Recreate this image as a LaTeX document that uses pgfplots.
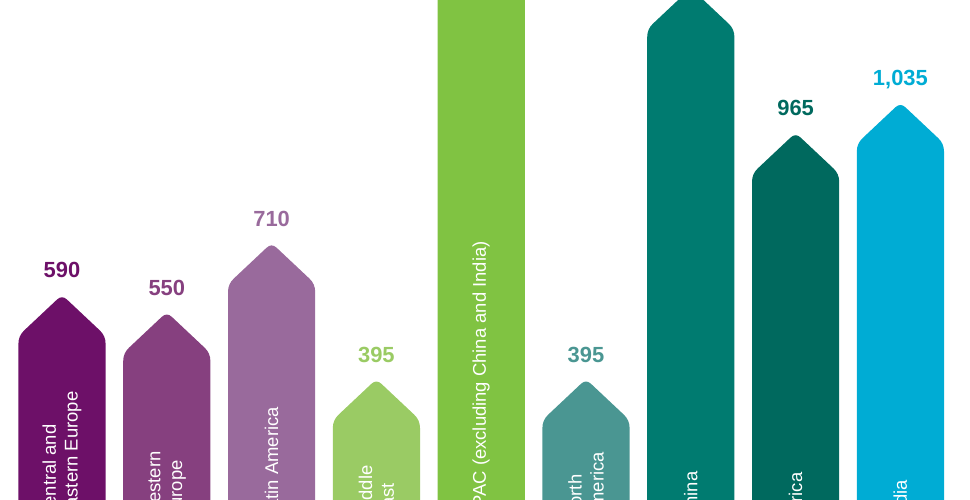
\documentclass[border=0pt]{standalone}
\usepackage{pgfplots}
\pgfplotsset{compat=1.18}
\usepackage{fontspec}
\setmainfont{Liberation Sans}

\definecolor{cee}{HTML}{6D1068}
\definecolor{we}{HTML}{86407F}
\definecolor{la}{HTML}{996A9C}
\definecolor{me}{HTML}{9ACB64}
\definecolor{apac}{HTML}{80C342}
\definecolor{na}{HTML}{4A9692}
\definecolor{cn}{HTML}{007B70}
\definecolor{af}{HTML}{00695E}
\definecolor{ind}{HTML}{00ACD4}

% arrow-shaped bar: peak at the data point, shaft running down past the picture
\pgfdeclareplotmark{arrowbar}{%
  \pgfpathmoveto{\pgfpoint{-43.6bp}{-900bp}}%
  \pgfpathlineto{\pgfpoint{-43.6bp}{-49bp}}%
  \pgfpathquadraticcurveto{\pgfpoint{-43.6bp}{-41bp}}{\pgfpoint{-37.77bp}{-35.52bp}}%
  \pgfpathlineto{\pgfpoint{-5.10bp}{-4.80bp}}%
  \pgfpathquadraticcurveto{\pgfpoint{0bp}{0bp}}{\pgfpoint{5.10bp}{-4.80bp}}%
  \pgfpathlineto{\pgfpoint{37.77bp}{-35.52bp}}%
  \pgfpathquadraticcurveto{\pgfpoint{43.6bp}{-41bp}}{\pgfpoint{43.6bp}{-49bp}}%
  \pgfpathlineto{\pgfpoint{43.6bp}{-900bp}}%
  \pgfpathclose
  \pgfusepathqfill
}

\newcommand\labelfont{\fontsize{18.5}{22}\selectfont}
\newcommand\valfont{\bfseries\fontsize{22}{25}\selectfont}

\pgfplotsset{
  arrowbar/.style={only marks, mark=arrowbar, point meta=explicit symbolic,
    nodes near coords,
    nodes near coords style={anchor=base, yshift=17bp, inner sep=0pt, font=\valfont}},
}

\begin{document}
\begin{tikzpicture}
\path[use as bounding box] (0,0) rectangle (970bp,500bp);
\clip (0,0) rectangle (970bp,500bp);
\begin{axis}[
  at={(0,0)}, anchor=south west,
  scale only axis, width=970bp, height=500bp,
  xmin=-0.5916, xmax=8.6641,
  ymin=115.2, ymax=1272.4,
  clip=false,
  hide axis,
]
\addplot[color=cee,  arrowbar] coordinates {(0,590) [590]};
\addplot[color=we,   arrowbar] coordinates {(1,550) [550]};
\addplot[color=la,   arrowbar] coordinates {(2,710) [710]};
\addplot[color=me,   arrowbar] coordinates {(3,395) [395]};
\addplot[color=apac, arrowbar] coordinates {(4,1725) [{1,725}]};
\addplot[color=na,   arrowbar] coordinates {(5,395) [395]};
\addplot[color=cn,   arrowbar] coordinates {(6,1300) [{1,300}]};
\addplot[color=af,   arrowbar] coordinates {(7,965) [965]};
\addplot[color=ind,  arrowbar] coordinates {(8,1035) [{1,035}]};
% region names, set inside the bars
\addplot[draw=none, mark=none, point meta=explicit symbolic,
  nodes near coords,
  nodes near coords style={rotate=90, anchor=west, inner sep=0pt, align=left,
    text=white, font=\labelfont}]
  coordinates {
    (0,69) [{Central and\\Eastern Europe}]
    (1,69) [{Western\\Europe}]
    (2,69) [{Latin America}]
    (3,69) [{Middle\\East}]
    (4,69) [{APAC (excluding China and India)}]
    (5,69) [{North\\America}]
    (6,69) [{China}]
    (7,69) [{Africa}]
    (8,69) [{India}]
  };
\end{axis}
\end{tikzpicture}
\end{document}
